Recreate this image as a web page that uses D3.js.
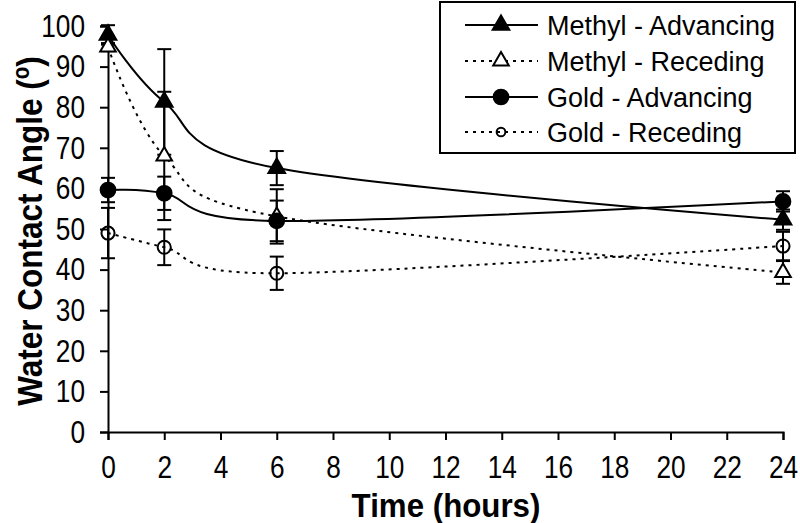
<!DOCTYPE html>
<html><head><meta charset="utf-8">
<script src="https://cdn.jsdelivr.net/npm/d3@7"></script>
<style>body{margin:0;background:#fff}svg{display:block;font-family:"Liberation Sans",Arial,sans-serif}</style>
</head><body>
<svg id="c" width="800" height="523"></svg>
<script>
const times = [0, 2, 6, 24];
const methylAdv = [97.8, 81.3, 65.0, 52.3];
const methylAdvErr = [2.4, 13.0, 4.2, 2.5];
const methylRec = [94.8, 68.0, 53.1, 39.3];
const methylRecErr = [1.0, 15.8, 6.7, 2.8];
const goldAdv = [59.6, 58.8, 52.0, 56.8];
const goldAdvErr = [3.0, 4.1, 5.0, 2.5];
const goldRec = [49.0, 45.5, 39.1, 45.8];
const goldRecErr = [6.2, 4.4, 4.1, 3.5];
const xTicks = [0,2,4,6,8,10,12,14,16,18,20,22,24];
const yTicks = [0,10,20,30,40,50,60,70,80,90,100];

const series = [
  {name:"Methyl - Advancing", vals:methylAdv, err:methylAdvErr, dash:null, sym:d3.symbolTriangle, fill:"#000", size:120},
  {name:"Methyl - Receding", vals:methylRec, err:methylRecErr, dash:"3,5", sym:d3.symbolTriangle, fill:"#fff", size:105},
  {name:"Gold - Advancing", vals:goldAdv, err:goldAdvErr, dash:null, sym:d3.symbolCircle, fill:"#000", size:170},
  {name:"Gold - Receding", vals:goldRec, err:goldRecErr, dash:"3,5", sym:d3.symbolCircle, fill:"none", size:135}
];

const svg = d3.select("#c");
const x = d3.scaleLinear().domain([0,24]).range([108,783]);
const y = d3.scaleLinear().domain([0,100]).range([432,26]);
const SX = 0.82;

// axes
const yAx = svg.append("g").attr("transform","translate(108,0)")
  .call(d3.axisLeft(y).tickValues(yTicks).tickSize(8).tickPadding(15).tickFormat(d3.format("d")));
const xAx = svg.append("g").attr("transform","translate(0,432)")
  .call(d3.axisBottom(x).tickValues(xTicks).tickSize(8).tickPadding(15).tickFormat(d3.format("d")));
[yAx,xAx].forEach(g=>{
  g.selectAll("path").attr("stroke","#000").attr("stroke-width",2);
  g.selectAll("line").attr("stroke","#000").attr("stroke-width",2);
  g.selectAll("text").attr("fill","#000").style("font-size","32px").style("font-family","'Liberation Sans',Arial,sans-serif");
});
xAx.selectAll("text").attr("dy","0.71em").attr("transform",`scale(${SX},1)`);
yAx.selectAll("text").attr("x",-23/SX).attr("transform",`scale(${SX},1)`);

// titles
svg.append("text").attr("transform","translate(446,517) scale(0.92,1)").attr("text-anchor","middle")
  .style("font-size","34px").style("font-weight","bold").text("Time (hours)");
const yt = svg.append("text").attr("transform","translate(42,231) rotate(-90) scale(0.9,1)").attr("text-anchor","middle")
  .style("font-size","35px").style("font-weight","bold");
yt.append("tspan").text("Water Contact Angle (");
yt.append("tspan").attr("dy","-13").style("font-size","23px").text("o");
yt.append("tspan").attr("dy","13").text(")");

const line = d3.line().x((d,i)=>x(times[i])).y(d=>y(d)).curve(d3.curveCardinal.tension(0));
const plot = svg.append("g");

series.forEach(s=>{
  plot.append("path").datum(s.vals).attr("d",line).attr("fill","none")
    .attr("stroke","#000").attr("stroke-width",2).attr("stroke-dasharray",s.dash);
});
series.forEach(s=>{
  s.vals.forEach((v,i)=>{
    const cx = x(times[i]), e = s.err[i];
    const g = plot.append("g").attr("stroke","#000").attr("stroke-width",2);
    g.append("line").attr("x1",cx).attr("x2",cx).attr("y1",y(v+e)).attr("y2",y(v-e));
    g.append("line").attr("x1",cx-7).attr("x2",cx+7).attr("y1",y(v+e)).attr("y2",y(v+e));
    g.append("line").attr("x1",cx-7).attr("x2",cx+7).attr("y1",y(v-e)).attr("y2",y(v-e));
  });
});
series.forEach(s=>{
  plot.selectAll(null).data(s.vals).enter().append("path")
    .attr("transform",(d,i)=>`translate(${x(times[i])},${y(d)})`)
    .attr("d",d3.symbol().type(s.sym).size(s.size))
    .attr("fill",s.fill).attr("stroke","#000").attr("stroke-width",2);
});

// legend
const lg = svg.append("g");
lg.append("rect").attr("x",440).attr("y",2).attr("width",355).attr("height",151)
  .attr("fill","#fff").attr("stroke","#000").attr("stroke-width",2);
const rowsY = [25, 61, 97, 132];
series.forEach((s,i)=>{
  const yy = rowsY[i];
  lg.append("line").attr("x1",465).attr("x2",538).attr("y1",yy).attr("y2",yy)
    .attr("stroke","#000").attr("stroke-width",2).attr("stroke-dasharray",s.dash);
  lg.append("path").attr("transform",`translate(501,${yy})`)
    .attr("d",d3.symbol().type(s.sym).size(i===3?60:s.size))
    .attr("fill",s.fill).attr("stroke","#000").attr("stroke-width",2);
  lg.append("text").attr("x",547).attr("y",yy).attr("dy","0.36em")
    .style("font-size","27px").text(s.name);
});
</script>
</body></html>
